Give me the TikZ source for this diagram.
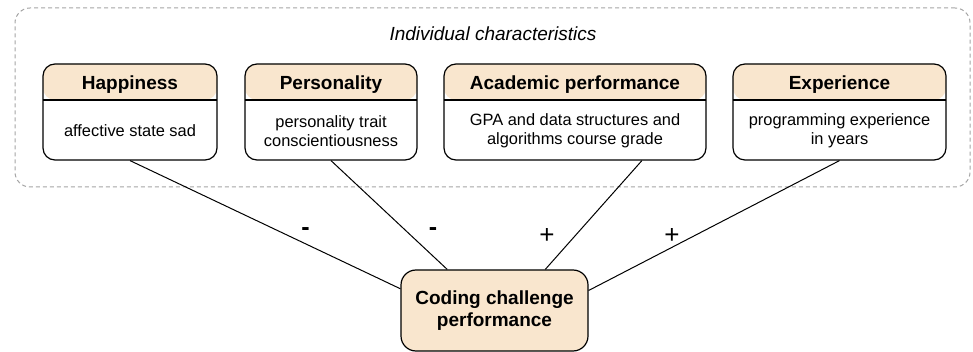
\documentclass[tikz,border=0pt]{standalone}
\usepackage{fontspec}
\setmainfont{Liberation Sans}
\usetikzlibrary{calc}

\definecolor{headfill}{RGB}{249,230,206}
\definecolor{framegray}{RGB}{165,165,165}

\tikzset{
    factor/.style={draw, line width=1.2pt, rounded corners=12pt, minimum height=96pt, inner sep=0pt,
        path picture={
            \fill[headfill] (path picture bounding box.north west) rectangle ([yshift=-36pt]path picture bounding box.north east);
            \draw[line width=1.2pt] ([yshift=-36pt]path picture bounding box.north west) -- ([yshift=-36pt]path picture bounding box.north east);
        }},
    headtitle/.style={anchor=base, font=\fontsize{19}{22}\selectfont\bfseries},
    bodytext/.style={align=center, inner sep=0pt, font=\fontsize{16.4}{19.2}\selectfont},
    outcome/.style={draw, fill=headfill, line width=1.2pt, rounded corners=15pt, minimum width=187pt, minimum height=81pt,
        align=center, font=\fontsize{19}{21.7}\selectfont\bfseries},
    group/.style={draw=framegray, line width=1pt, dash pattern=on 4pt off 3pt, rounded corners=15pt},
    grouptitle/.style={font=\fontsize{19}{22}\selectfont\itshape},
    minus/.style={inner sep=0pt, font=\fontsize{25}{28}\selectfont\bfseries},
    plus/.style={inner sep=0pt, font=\fontsize{26}{28}\selectfont},
    link/.style={line width=1pt},
}

\begin{document}
\begin{tikzpicture}[x=1pt, y=1pt]
    \useasboundingbox (0,0) rectangle (973,-352);

    \node[group, minimum width=955pt, minimum height=179pt] (indiv) at (492.5,-97.5) {};
    \node[grouptitle] (indivT) at (493,-33.5) {Individual characteristics};

    \node[factor, minimum width=174pt] (happy) at (130,-112) {};
    \node[headtitle] (happyT) at (130,-89.3) {Happiness};
    \node[bodytext] (happyB) at (130,-131) {affective state sad};

    \node[factor, minimum width=172pt] (perso) at (331,-112) {};
    \node[headtitle] (persoT) at (331,-89.3) {Personality};
    \node[bodytext] (persoB) at (331,-131) {personality trait\\conscientiousness};

    \node[factor, minimum width=262pt] (acad) at (575,-112) {};
    \node[headtitle] (acadT) at (575,-89.3) {Academic performance};
    \node[bodytext] (acadB) at (575,-131) {GPA and data structures and\\algorithms course grade};

    \node[factor, minimum width=213pt] (exper) at (839.5,-112) {};
    \node[headtitle] (experT) at (839.5,-89.3) {Experience};
    \node[bodytext] (experB) at (839.5,-131) {programming experience\\in years};

    \node[outcome] (code) at (494.5,-310.5) {Coding challenge\\performance};

    \draw[link] (happy.south) -- (code.167.3);
    \draw[link] (perso.south) -- (code.139.3);
    \draw[link] (acad.-36.4) -- (code.39.5);
    \draw[link] (exper.south) -- (code.12.1);

    \node[minus] (happyS) at (305.5,-231.5) {-};
    \node[minus] (persoS) at (433,-231.5) {-};
    \node[plus] (acadS) at (547,-235.5) {+};
    \node[plus] (experS) at (672,-235.5) {+};
\end{tikzpicture}
\end{document}
